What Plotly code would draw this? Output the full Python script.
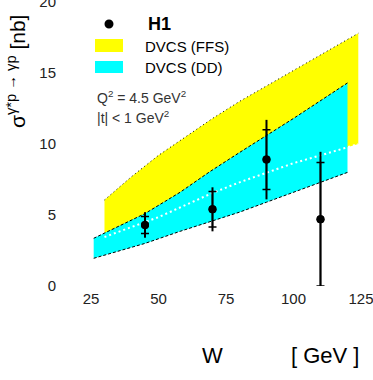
import plotly.graph_objects as go

# ---- data ----
# DVCS (FFS) band
W_ffs = [30, 40, 50, 60, 70, 80, 90, 100, 110, 124]
ffs_upper = [6.06, 7.7, 9.2, 10.5, 11.8, 13.0, 14.1, 15.2, 16.3, 17.8]
ffs_lower = [3.45, 4.15, 4.85, 5.7, 6.55, 7.3, 8.0, 8.65, 9.2, 10.0]
# DVCS (DD) band
W_dd = [26, 45, 58, 69, 80, 90, 100, 120]
dd_upper = [3.36, 5.1, 6.6, 8.05, 9.4, 10.6, 11.8, 14.3]
dd_lower = [1.95, 3.0, 3.85, 4.5, 5.2, 5.9, 6.6, 8.0]
# H1 data
W_h1 = [45, 70, 90, 110]
sig_h1 = [4.3, 5.4, 8.9, 4.7]
stat_up = [0.6, 1.25, 2.1, 4.0]
stat_dn = [0.6, 1.25, 2.1, 4.7]
tot_up = [0.9, 1.55, 2.8, 4.75]
tot_dn = [0.9, 1.55, 2.8, 4.7]

x_ticks = [25, 50, 75, 100, 125]
y_ticks = [0, 5, 10, 15, 20]

FONT = "Liberation Sans, Arial, sans-serif"
YELLOW = "#ffff00"
CYAN = "#00ffff"

fig = go.Figure()

# FFS band fill
fig.add_trace(go.Scatter(
    x=W_ffs + W_ffs[::-1], y=ffs_upper + ffs_lower[::-1],
    fill="toself", fillcolor=YELLOW, mode="lines", line=dict(width=0),
    hoverinfo="skip"))
fig.add_trace(go.Scatter(
    x=W_ffs, y=ffs_upper, mode="lines",
    line=dict(color="black", width=1, dash="1px,3px"), hoverinfo="skip"))

# DD band fill
fig.add_trace(go.Scatter(
    x=W_dd + W_dd[::-1], y=dd_upper + dd_lower[::-1],
    fill="toself", fillcolor=CYAN, mode="lines", line=dict(width=0),
    hoverinfo="skip"))
fig.add_trace(go.Scatter(
    x=W_dd, y=dd_upper, mode="lines",
    line=dict(color="black", width=1, dash="3px,2px"), hoverinfo="skip"))
fig.add_trace(go.Scatter(
    x=W_dd, y=dd_lower, mode="lines",
    line=dict(color="black", width=1, dash="3px,2px"), hoverinfo="skip"))

# FFS lower edge as white dotted line on top
fig.add_trace(go.Scatter(
    x=W_ffs, y=ffs_lower, mode="lines",
    line=dict(color="white", width=2, dash="2px,3px"), hoverinfo="skip"))

# H1 total errors
fig.add_trace(go.Scatter(
    x=W_h1, y=sig_h1, mode="markers",
    marker=dict(color="black", size=8),
    error_y=dict(type="data", symmetric=False, array=tot_up, arrayminus=tot_dn,
                 width=0, thickness=2, color="black")))
# H1 stat errors (with ticks)
fig.add_trace(go.Scatter(
    x=W_h1, y=sig_h1, mode="markers",
    marker=dict(color="black", size=8),
    error_y=dict(type="data", symmetric=False, array=stat_up, arrayminus=stat_dn,
                 width=4, thickness=1.5, color="black")))

L, T, PW, PH = 78, 1, 284, 285
X_RANGE = [20.19, 20.19 + PW / 2.7]
Y_RANGE = [0, PH / 14.2]


def px(x):
    return (x - L) / PW


def py(y):
    return (T + PH - y) / PH


shapes = [
    dict(type="circle", xref="paper", yref="paper",
         x0=px(104.5), x1=px(113.5), y0=py(28.5), y1=py(19.5),
         fillcolor="black", line=dict(width=0)),
    dict(type="rect", xref="paper", yref="paper",
         x0=px(95), x1=px(123), y0=py(52), y1=py(39),
         fillcolor=YELLOW, line=dict(width=0)),
    dict(type="rect", xref="paper", yref="paper",
         x0=px(95), x1=px(123), y0=py(73), y1=py(61),
         fillcolor=CYAN, line=dict(width=0)),
]


def ann(text, x, y, size, xanchor="left", angle=0, color="black"):
    return dict(text=text, xref="paper", yref="paper", x=px(x), y=py(y),
                xanchor=xanchor, yanchor="middle", showarrow=False,
                textangle=angle, font=dict(family=FONT, size=size, color=color))


annotations = [
    ann("<b>H1</b>", 146, 24, 18),
    ann("DVCS (FFS)", 143, 46, 15),
    ann("DVCS (DD)", 143, 67.5, 15),
    ann("Q<sup>2</sup> = 4.5 GeV<sup>2</sup>", 95, 97, 14, color="#333"),
    ann("|t| < 1 GeV<sup>2</sup>", 95, 117, 14, color="#333"),
    ann("σ<sup>γ*p → γp</sup> [nb]", 16, 72, 21, xanchor="center", angle=-90),
    ann("W", 212, 355, 22, xanchor="center"),
    ann("[ GeV ]", 325, 355, 22, xanchor="center"),
]

fig.update_layout(
    width=373, height=380,
    margin=dict(l=L, r=373 - L - PW, t=T, b=380 - T - PH, pad=0),
    paper_bgcolor="white", plot_bgcolor="white",
    showlegend=False,
    font=dict(family=FONT, size=15, color="#222"),
    shapes=shapes, annotations=annotations,
    xaxis=dict(range=X_RANGE, tickvals=x_ticks, showgrid=False,
               zeroline=False, showline=False, ticks="",
               tickfont=dict(size=15, color="#222"), ticklabelstandoff=2,
               ticklabeloverflow="allow", automargin=False),
    yaxis=dict(range=Y_RANGE, tickvals=y_ticks, showgrid=False,
               zeroline=False, showline=False, ticks="",
               tickfont=dict(size=15, color="#222"), ticklabelstandoff=21,
               ticklabeloverflow="allow", automargin=False),
)

fig.write_html("out.html", config={"displayModeBar": False},
               post_script="document.body.style.margin='0';window.dispatchEvent(new Event('resize'));")
